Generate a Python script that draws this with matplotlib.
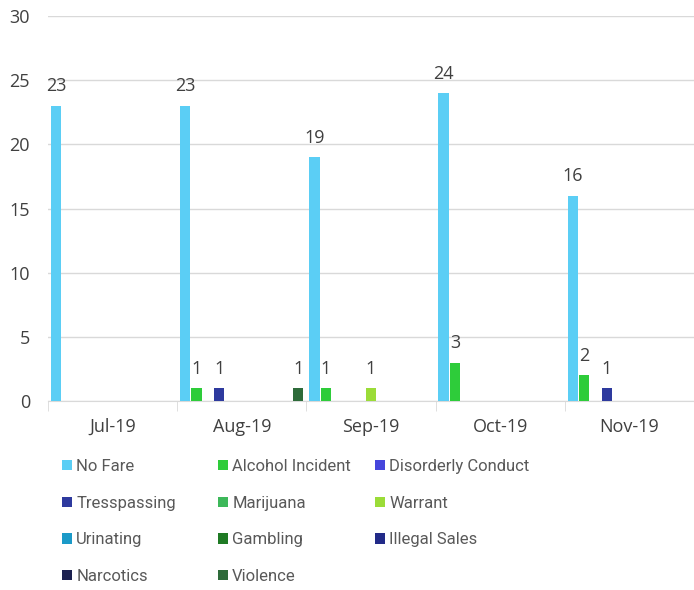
import matplotlib.pyplot as plt
from matplotlib.patches import Patch
import numpy as np

plt.rcParams['font.family'] = ['Open Sans', 'DejaVu Sans']

months = ['Jul-19', 'Aug-19', 'Sep-19', 'Oct-19', 'Nov-19']
series = ['No Fare', 'Alcohol Incident', 'Disorderly Conduct', 'Tresspassing',
          'Marijuana', 'Warrant', 'Urinating', 'Gambling', 'Illegal Sales',
          'Narcotics', 'Violence']
colors = ['#5BCEF5', '#2ECC3A', '#4646DC', '#2E3A9E', '#3DB85A', '#9BDC38',
          '#1B9AC8', '#1F7A24', '#222A88', '#1C2150', '#2E6B3A']

no_fare = [23, 23, 19, 24, 16]
alcohol = [0, 1, 1, 3, 2]
disorderly = [0, 0, 0, 0, 0]
tresspassing = [0, 1, 0, 0, 1]
marijuana = [0, 0, 0, 0, 0]
warrant = [0, 0, 1, 0, 0]
urinating = [0, 0, 0, 0, 0]
gambling = [0, 0, 0, 0, 0]
illegal_sales = [0, 0, 0, 0, 0]
narcotics = [0, 0, 0, 0, 0]
violence = [0, 1, 0, 0, 0]

values = [no_fare, alcohol, disorderly, tresspassing, marijuana, warrant,
          urinating, gambling, illegal_sales, narcotics, violence]

fig = plt.figure(figsize=(6.94, 5.90), dpi=100)
ax = fig.add_axes([48/694, 1-401/590, 646/694, 385/590])

x = np.arange(len(months))
slot = 0.0875
bw = 0.08
for i, (name, vals) in enumerate(zip(series, values)):
    pos = x - 0.5 + 0.0185 + (i + 0.5) * slot
    bars = ax.bar(pos, vals, width=bw, color=colors[i], label=name, zorder=3)
    for b, v in zip(bars, vals):
        if v > 0:
            ax.annotate(str(v), (b.get_x() + b.get_width()/2, v),
                        xytext=(0, 14), textcoords='offset points',
                        ha='center', va='center', fontsize=13, color='#404040')

ax.set_ylim(0, 30)
ax.set_xlim(-0.5, 4.5)
ax.set_yticks(range(0, 31, 5))
ax.grid(axis='y', color='#D9D9D9', linewidth=1, zorder=0)
ax.set_axisbelow(True)
for s in ['top', 'right', 'left']:
    ax.spines[s].set_visible(False)
ax.spines['bottom'].set_color('#D9D9D9')
ax.tick_params(axis='y', length=0, pad=13, labelsize=13, labelcolor='#404040')
ax.set_xticks(x)
ax.set_xticklabels(months)
ax.tick_params(axis='x', which='major', length=0, pad=12, labelsize=13, labelcolor='#404040')
ax.set_xticks(np.arange(-0.5, 5, 1), minor=True)
ax.tick_params(axis='x', which='minor', length=7, color='#D9D9D9')

handles = [Patch(facecolor=c) for c in colors]
col_x = [62/694, 218/694, 375/694]
for c in range(3):
    idx = list(range(c, len(series), 3))
    fig.legend([handles[k] for k in idx], [series[k] for k in idx],
               loc='upper left', bbox_to_anchor=(col_x[c], 1-459/590),
               frameon=False, prop={'family': 'Roboto', 'size': 12},
               labelcolor='#595959',
               handlelength=0.6, handleheight=0.6, handletextpad=0.25,
               labelspacing=1.3, borderaxespad=0, borderpad=0)

fig.savefig('out.png', dpi=100)
